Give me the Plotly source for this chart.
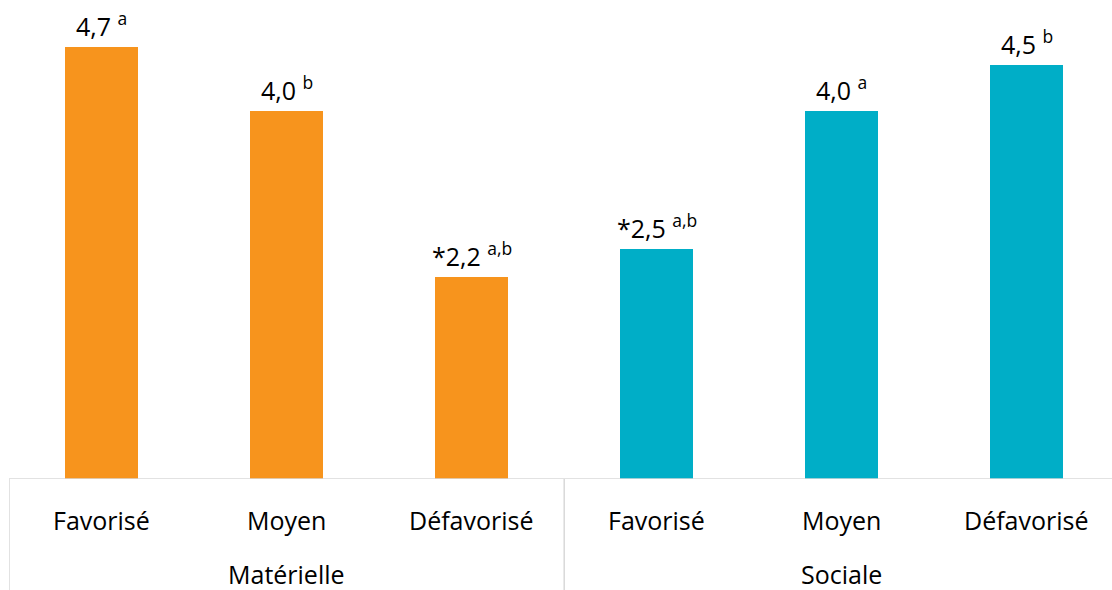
import plotly.graph_objects as go

groups = ["Matérielle", "Matérielle", "Matérielle", "Sociale", "Sociale", "Sociale"]
categories = ["Favorisé", "Moyen", "Défavorisé", "Favorisé", "Moyen", "Défavorisé"]
values = [4.7, 4.0, 2.2, 2.5, 4.0, 4.5]
prefixes = ["", "", "*", "*", "", ""]
superscripts = ["a", "b", "a,b", "a,b", "a", "b"]
colors = ["#F7941D", "#F7941D", "#F7941D", "#00AEC7", "#00AEC7", "#00AEC7"]

FONT = "Open Sans"
xs = list(range(len(values)))

fig = go.Figure()
fig.add_trace(go.Bar(
    x=xs, y=values, marker=dict(color=colors, line=dict(width=0)),
    width=0.395, showlegend=False, hoverinfo="skip",
))

for i, v in enumerate(values):
    txt = f"{prefixes[i]}{v:.1f}".replace(".", ",") + f" <sup>{superscripts[i]}</sup>"
    fig.add_annotation(x=xs[i], y=v, text=txt, showarrow=False,
                       yanchor="bottom", yshift=2,
                       font=dict(family=FONT, size=25, color="#000000"))

# category labels
for i, c in enumerate(categories):
    fig.add_annotation(x=xs[i], y=0, yref="y", text=c, showarrow=False,
                       yanchor="middle", yshift=-41,
                       font=dict(family=FONT, size=25, color="#000000"))

# group labels
group_names = []
for g in groups:
    if g not in group_names:
        group_names.append(g)
for g in group_names:
    idx = [i for i, gg in enumerate(groups) if gg == g]
    cx = sum(idx) / len(idx)
    fig.add_annotation(x=cx, y=0, yref="y", text=g, showarrow=False,
                       yanchor="middle", yshift=-95,
                       font=dict(family=FONT, size=25, color="#000000"))

line_col = "#D9D9D9"
# baseline
fig.add_shape(type="line", xref="paper", yref="y", x0=0, x1=1, y0=0, y1=0,
              line=dict(color=line_col, width=1.5))
# group dividers
bounds = [-0.5, 2.5, 5.5]
for b in bounds:
    fig.add_shape(type="line", xref="x", yref="paper", x0=b, x1=b, y0=0, y1=-0.3,
                  line=dict(color=line_col, width=1.5))

fig.update_layout(
    width=1112, height=590,
    margin=dict(l=9, r=0, t=0, b=111),
    plot_bgcolor="white", paper_bgcolor="white",
    xaxis=dict(range=[-0.5, 5.46], showticklabels=False, showgrid=False,
               zeroline=False, showline=False, ticks=""),
    yaxis=dict(range=[0, 5.21], visible=False, showgrid=False, zeroline=False),
    bargap=0,
)

fig.write_html("out.html")
